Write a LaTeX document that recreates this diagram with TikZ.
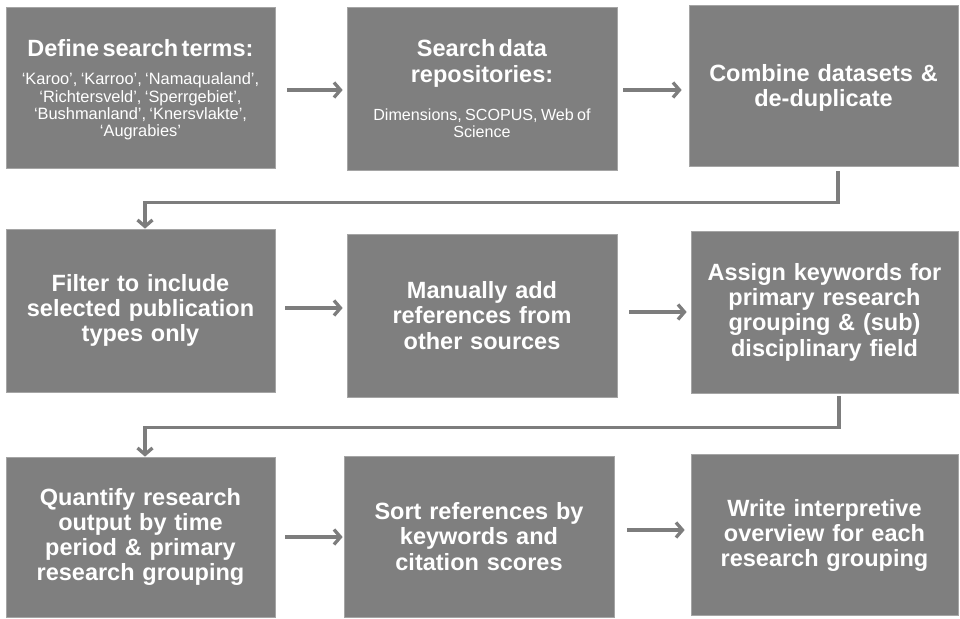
\documentclass[tikz,border=0pt]{standalone}
\usepackage{fontspec}
\setmainfont{Liberation Sans}
\usetikzlibrary{arrows.meta,calc}
\definecolor{boxgray}{RGB}{127,127,127}
\definecolor{boxedge}{RGB}{165,165,165}
\definecolor{arrgray}{RGB}{125,125,125}
\newcommand{\ttlfont}{\bfseries\fontsize{23.5}{25.3}\selectfont}
\newcommand{\smlfontA}{\fontsize{16.4}{17.2}\selectfont}
\newcommand{\smlfontB}{\fontsize{16.1}{16.7}\selectfont}
\begin{document}
\begin{tikzpicture}[x=1pt,y=-1pt,
  box/.style={fill=boxgray, draw=boxedge, line width=0.7pt, text=white,
    align=center, inner sep=0pt, text width=265pt},
  arr/.style={draw=arrgray, line width=3.3pt,
    -{Straight Barb[length=6.5pt,width=15pt,line width=3.3pt]}},
  elbow/.style={draw=arrgray, line width=3.6pt,
    -{Straight Barb[length=6.5pt,width=15pt,line width=3.3pt]}}]
\useasboundingbox (0,0) rectangle (960,618);
\fill[white] (0,0) rectangle (960,618);
% row 1
\node[box, minimum width=269pt, minimum height=161pt] (b1) at (140.5,87.5)
  {{\ttlfont\rule{0pt}{21.7pt}Define search terms:\par}\vspace{11pt}%
   {\smlfontA ‘Karoo’, ‘Karroo’, ‘Namaqualand’,\\ ‘Richtersveld’, ‘Sperrgebiet’,\\ ‘Bushmanland’, ‘Knersvlakte’,\\ ‘Augrabies’\par}};
\node[box, minimum width=270pt, minimum height=163pt] (b2) at (482,88.5)
  {{\ttlfont Search data\\ repositories:\par}\vspace{21.6pt}%
   {\smlfontB Dimensions, SCOPUS, Web of\\ Science\par}};
\node[box, minimum width=269pt, minimum height=161pt, font=\ttlfont] (b3) at (823.5,85.5)
  {\rule{0pt}{22.1pt}Combine datasets \&\\ de-duplicate};
% row 2
\node[box, minimum width=269pt, minimum height=163pt, font=\ttlfont] (b4) at (140.5,310.5)
  {Filter to include\\ selected publication\\ types only};
\node[box, minimum width=270pt, minimum height=163pt, font=\ttlfont] (b5) at (482,315.5)
  {Manually add\\ references from\\ other sources};
\node[box, minimum width=267pt, minimum height=162pt, font=\ttlfont] (b6) at (824.5,312)
  {Assign keywords for\\ primary research\\ grouping \& (sub)\\ disciplinary field};
% row 3
\node[box, minimum width=269pt, minimum height=160pt, font=\ttlfont] (b7) at (140.5,537)
  {Quantify research\\ output by time\\ period \& primary\\ research grouping};
\node[box, minimum width=270pt, minimum height=161pt, font=\ttlfont] (b8) at (479,536.5)
  {Sort references by\\ keywords and\\ citation scores};
\node[box, minimum width=267pt, minimum height=161pt, font=\ttlfont] (b9) at (824.5,534.5)
  {\rule{0pt}{19.1pt}Write interpretive\\ overview for each\\ research grouping};
% horizontal arrows
\draw[arr, shorten <=12pt, shorten >=4pt] ([yshift=-2.5pt]b1.east) -- ([yshift=-2.5pt]b1.east -| b2.west);
\draw[arr, shorten <=6pt, shorten >=7pt] ([yshift=-1.5pt]b2.east) -- ([yshift=-1.5pt]b2.east -| b3.west);
\draw[arr, shorten <=10pt, shorten >=4pt] ([yshift=2.5pt]b4.east) -- ([yshift=2.5pt]b4.east -| b5.west);
\draw[arr, shorten <=12pt, shorten >=4pt] (b6.west -| b5.east) -- (b6.west);
\draw[arr, shorten <=10pt, shorten >=1pt] (b7.east) -- (b7.east -| b8.west);
\draw[arr, shorten <=13pt, shorten >=6pt] ([yshift=4.5pt]b9.west -| b8.east) -- ([yshift=4.5pt]b9.west);
% elbow connectors
\draw[elbow] ([xshift=14.5pt,yshift=-5pt]b3.south) -- ++(0,31) -| ([xshift=4.5pt]b4.north);
\draw[elbow] ([xshift=14.5pt,yshift=-3pt]b6.south) -- ++(0,31) -| ([xshift=4.5pt]b7.north);
\end{tikzpicture}
\end{document}
